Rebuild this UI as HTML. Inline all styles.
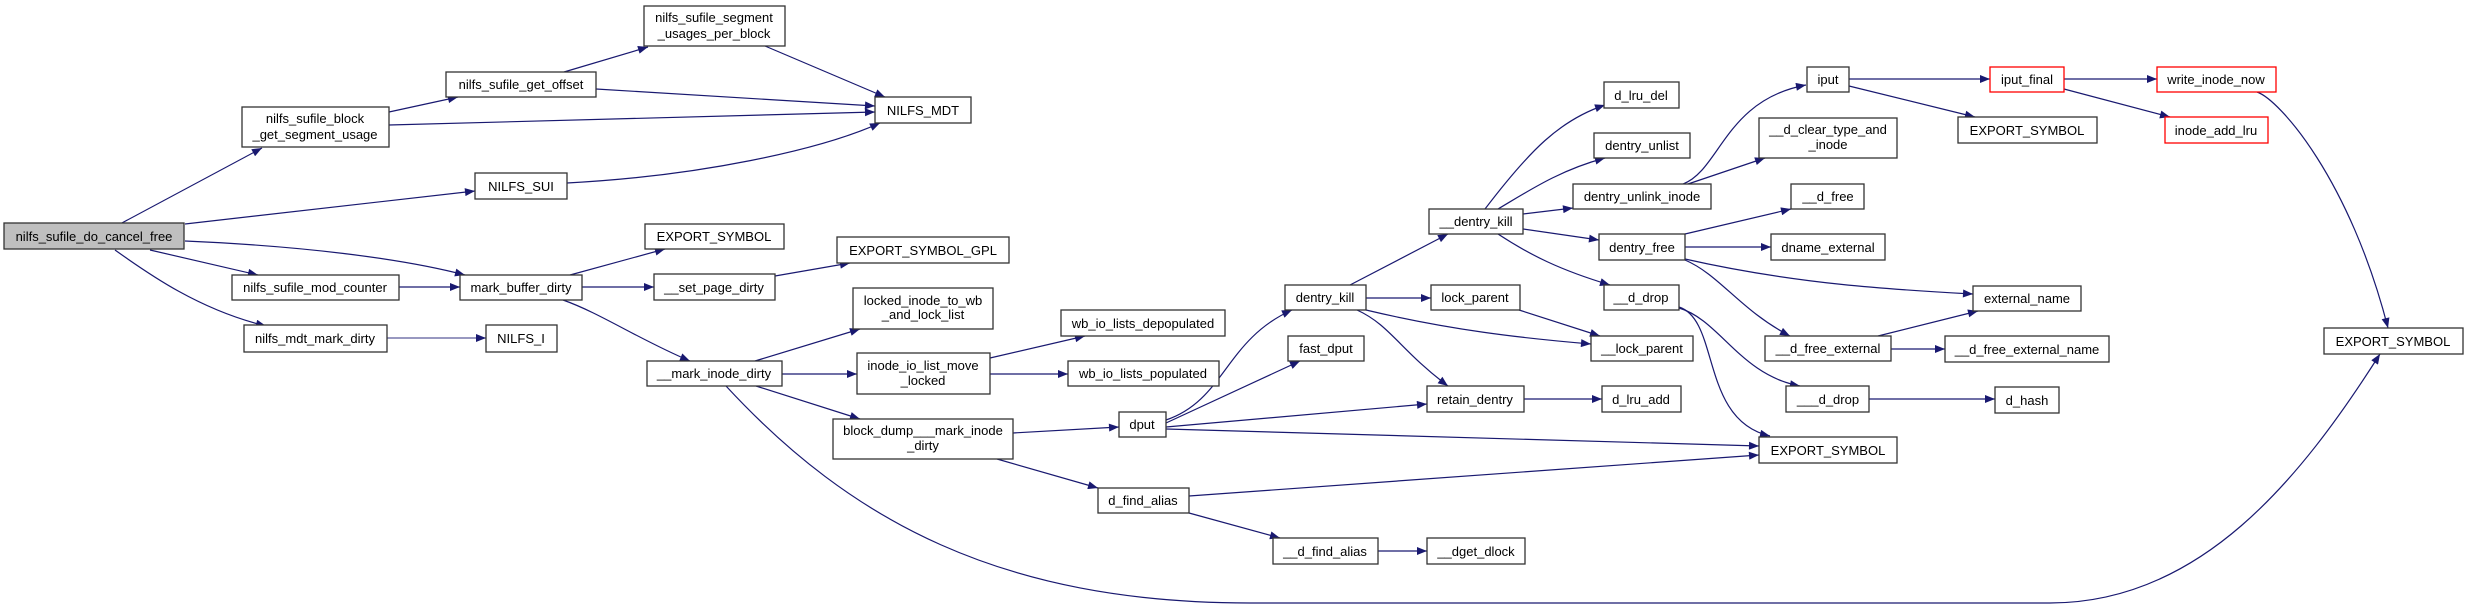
<!DOCTYPE html>
<html><head><meta charset="utf-8"><style>
html,body{margin:0;padding:0;background:#fff;}
svg{display:block;}
text{font-family:"Liberation Sans",sans-serif;font-size:13px;fill:#000;}
</style></head><body>
<svg width="2468" height="607" viewBox="0 0 2468 607" xmlns="http://www.w3.org/2000/svg">
<defs><marker id="a" viewBox="0 0 10 8" refX="10" refY="4" markerWidth="11" markerHeight="8" markerUnits="userSpaceOnUse" orient="auto"><path d="M0,0L10,4L0,8z" fill="#191970"/></marker></defs>
<g fill="none" stroke="#191970" stroke-width="1.2" marker-end="url(#a)">
<path d="M120,224L262,148"/>
<path d="M185,224L475,191"/>
<path d="M185,241C300,246 400,258 465,275"/>
<path d="M150,250L258,275"/>
<path d="M115,250C150,275 200,310 266,326"/>
<path d="M389,112L458,97"/>
<path d="M389,125L875,112"/>
<path d="M596,89L875,106"/>
<path d="M567,183C700,176 820,150 880,123"/>
<path d="M564,72L648,47"/>
<path d="M765,46L885,97"/>
<path d="M399,287L460,287"/>
<path d="M387,338L486,338" stroke="#5a5a9a"/>
<path d="M570,275L665,249"/>
<path d="M582,287L654,287"/>
<path d="M563,300C600,313 640,340 690,361"/>
<path d="M775,276L850,263"/>
<path d="M755,361L860,329"/>
<path d="M782,374L857,374"/>
<path d="M756,386L860,419"/>
<path d="M726,386C850,520 1000,603 1250,603L2050,603C2200,603 2300,480 2380,354"/>
<path d="M990,358L1085,336"/>
<path d="M990,374L1068,374"/>
<path d="M1013,433L1119,427"/>
<path d="M997,459L1098,488"/>
<path d="M1166,420C1225,400 1225,340 1292,310"/>
<path d="M1166,423L1300,361"/>
<path d="M1166,427L1427,404"/>
<path d="M1166,429L1759,446"/>
<path d="M1189,496L1759,455"/>
<path d="M1189,513L1280,538"/>
<path d="M1378,551L1427,551"/>
<path d="M1350,285L1448,234"/>
<path d="M1366,298L1431,298"/>
<path d="M1366,310C1450,330 1520,338 1591,344"/>
<path d="M1357,310C1390,325 1400,350 1448,386"/>
<path d="M1519,310L1600,336"/>
<path d="M1524,399L1602,399"/>
<path d="M1485,209C1530,150 1560,120 1605,105"/>
<path d="M1498,209C1530,190 1560,170 1605,158"/>
<path d="M1523,214L1573,208"/>
<path d="M1523,229L1599,240"/>
<path d="M1498,234C1530,255 1560,270 1610,285"/>
<path d="M1683,184C1720,170 1725,100 1806,85"/>
<path d="M1688,184L1765,158"/>
<path d="M1685,234L1791,209"/>
<path d="M1685,247L1771,247"/>
<path d="M1685,259C1800,285 1900,290 1973,294"/>
<path d="M1685,260C1720,275 1740,310 1790,336"/>
<path d="M1679,307C1720,320 1700,420 1770,436"/>
<path d="M1679,308C1720,320 1740,375 1800,386"/>
<path d="M1878,336L1978,311"/>
<path d="M1891,349L1945,349"/>
<path d="M1869,399L1995,399"/>
<path d="M1849,79L1990,79"/>
<path d="M1849,86L1975,117"/>
<path d="M2064,79L2157,79"/>
<path d="M2064,89L2170,117"/>
<path d="M2257,92C2280,100 2350,180 2388,328"/>
</g>
<g stroke-width="1.3" text-anchor="middle">
<rect x="4" y="223" width="180" height="26" fill="#bfbfbf" stroke="#333"/><text x="94" y="241">nilfs_sufile_do_cancel_free</text>
<rect x="242" y="107" width="147" height="40" fill="#fff" stroke="#333"/><text x="315" y="123">nilfs_sufile_block</text><text x="315" y="139">_get_segment_usage</text>
<rect x="446" y="72" width="150" height="25" fill="#fff" stroke="#333"/><text x="521" y="89">nilfs_sufile_get_offset</text>
<rect x="475" y="173" width="92" height="26" fill="#fff" stroke="#333"/><text x="521" y="191">NILFS_SUI</text>
<rect x="232" y="275" width="167" height="25" fill="#fff" stroke="#333"/><text x="315" y="292">nilfs_sufile_mod_counter</text>
<rect x="460" y="275" width="122" height="25" fill="#fff" stroke="#333"/><text x="521" y="292">mark_buffer_dirty</text>
<rect x="244" y="325" width="143" height="27" fill="#fff" stroke="#333"/><text x="315" y="343">nilfs_mdt_mark_dirty</text>
<rect x="486" y="325" width="71" height="27" fill="#fff" stroke="#333"/><text x="521" y="343">NILFS_I</text>
<rect x="644" y="6" width="141" height="40" fill="#fff" stroke="#333"/><text x="714" y="22">nilfs_sufile_segment</text><text x="714" y="38">_usages_per_block</text>
<rect x="875" y="97" width="96" height="26" fill="#fff" stroke="#333"/><text x="923" y="115">NILFS_MDT</text>
<rect x="645" y="224" width="139" height="25" fill="#fff" stroke="#333"/><text x="714" y="241">EXPORT_SYMBOL</text>
<rect x="837" y="237" width="172" height="26" fill="#fff" stroke="#333"/><text x="923" y="255">EXPORT_SYMBOL_GPL</text>
<rect x="654" y="274" width="121" height="26" fill="#fff" stroke="#333"/><text x="714" y="292">__set_page_dirty</text>
<rect x="853" y="288" width="140" height="41" fill="#fff" stroke="#333"/><text x="923" y="305">locked_inode_to_wb</text><text x="923" y="319">_and_lock_list</text>
<rect x="1061" y="310" width="164" height="26" fill="#fff" stroke="#333"/><text x="1143" y="328">wb_io_lists_depopulated</text>
<rect x="647" y="361" width="135" height="25" fill="#fff" stroke="#333"/><text x="714" y="378">__mark_inode_dirty</text>
<rect x="857" y="353" width="133" height="41" fill="#fff" stroke="#333"/><text x="923" y="370">inode_io_list_move</text><text x="923" y="385">_locked</text>
<rect x="1068" y="361" width="151" height="25" fill="#fff" stroke="#333"/><text x="1143" y="378">wb_io_lists_populated</text>
<rect x="833" y="419" width="180" height="40" fill="#fff" stroke="#333"/><text x="923" y="435">block_dump___mark_inode</text><text x="923" y="450">_dirty</text>
<rect x="1119" y="412" width="47" height="25" fill="#fff" stroke="#333"/><text x="1142" y="429">dput</text>
<rect x="1098" y="488" width="91" height="25" fill="#fff" stroke="#333"/><text x="1143" y="505">d_find_alias</text>
<rect x="1285" y="285" width="81" height="25" fill="#fff" stroke="#333"/><text x="1325" y="302">dentry_kill</text>
<rect x="1288" y="336" width="76" height="25" fill="#fff" stroke="#333"/><text x="1326" y="353">fast_dput</text>
<rect x="1273" y="538" width="105" height="26" fill="#fff" stroke="#333"/><text x="1325" y="556">__d_find_alias</text>
<rect x="1429" y="209" width="94" height="25" fill="#fff" stroke="#333"/><text x="1476" y="226">__dentry_kill</text>
<rect x="1431" y="285" width="89" height="25" fill="#fff" stroke="#333"/><text x="1475" y="302">lock_parent</text>
<rect x="1427" y="386" width="97" height="26" fill="#fff" stroke="#333"/><text x="1475" y="404">retain_dentry</text>
<rect x="1427" y="538" width="98" height="26" fill="#fff" stroke="#333"/><text x="1476" y="556">__dget_dlock</text>
<rect x="1604" y="82" width="75" height="26" fill="#fff" stroke="#333"/><text x="1641" y="100">d_lru_del</text>
<rect x="1594" y="133" width="96" height="25" fill="#fff" stroke="#333"/><text x="1642" y="150">dentry_unlist</text>
<rect x="1573" y="184" width="138" height="25" fill="#fff" stroke="#333"/><text x="1642" y="201">dentry_unlink_inode</text>
<rect x="1599" y="234" width="86" height="26" fill="#fff" stroke="#333"/><text x="1642" y="252">dentry_free</text>
<rect x="1604" y="285" width="75" height="25" fill="#fff" stroke="#333"/><text x="1641" y="302">__d_drop</text>
<rect x="1591" y="336" width="102" height="25" fill="#fff" stroke="#333"/><text x="1642" y="353">__lock_parent</text>
<rect x="1602" y="386" width="79" height="26" fill="#fff" stroke="#333"/><text x="1641" y="404">d_lru_add</text>
<rect x="1807" y="67" width="42" height="25" fill="#fff" stroke="#333"/><text x="1828" y="84">iput</text>
<rect x="1759" y="118" width="138" height="40" fill="#fff" stroke="#333"/><text x="1828" y="134">__d_clear_type_and</text><text x="1828" y="149">_inode</text>
<rect x="1791" y="184" width="73" height="25" fill="#fff" stroke="#333"/><text x="1828" y="201">__d_free</text>
<rect x="1771" y="234" width="114" height="26" fill="#fff" stroke="#333"/><text x="1828" y="252">dname_external</text>
<rect x="1765" y="336" width="126" height="25" fill="#fff" stroke="#333"/><text x="1828" y="353">__d_free_external</text>
<rect x="1786" y="386" width="83" height="26" fill="#fff" stroke="#333"/><text x="1828" y="404">___d_drop</text>
<rect x="1759" y="437" width="138" height="26" fill="#fff" stroke="#333"/><text x="1828" y="455">EXPORT_SYMBOL</text>
<rect x="1990" y="67" width="74" height="25" fill="#fff" stroke="#f00"/><text x="2027" y="84">iput_final</text>
<rect x="1958" y="117" width="139" height="26" fill="#fff" stroke="#333"/><text x="2027" y="135">EXPORT_SYMBOL</text>
<rect x="1973" y="286" width="108" height="25" fill="#fff" stroke="#333"/><text x="2027" y="303">external_name</text>
<rect x="1945" y="336" width="164" height="26" fill="#fff" stroke="#333"/><text x="2027" y="354">__d_free_external_name</text>
<rect x="1995" y="387" width="64" height="26" fill="#fff" stroke="#333"/><text x="2027" y="405">d_hash</text>
<rect x="2157" y="67" width="119" height="25" fill="#fff" stroke="#f00"/><text x="2216" y="84">write_inode_now</text>
<rect x="2165" y="117" width="103" height="26" fill="#fff" stroke="#f00"/><text x="2216" y="135">inode_add_lru</text>
<rect x="2324" y="328" width="139" height="26" fill="#fff" stroke="#333"/><text x="2393" y="346">EXPORT_SYMBOL</text>
</g>
</svg>
</body></html>
